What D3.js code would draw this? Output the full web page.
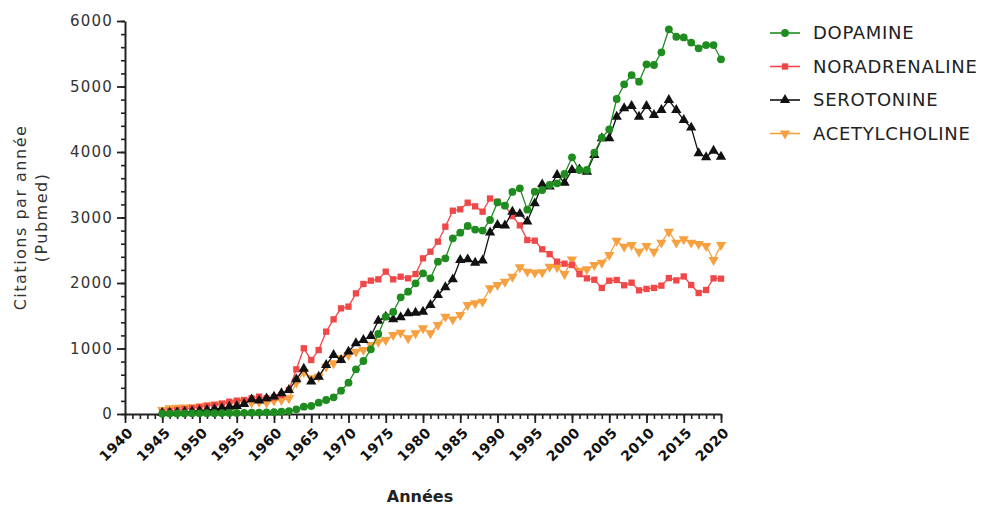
<!DOCTYPE html>
<html>
<head>
<meta charset="utf-8">
<script src="https://cdn.jsdelivr.net/npm/d3@7"></script>
<style>
  html, body { margin: 0; padding: 0; background: #fff; }
  svg { display: block; }
  text { font-family: "DejaVu Sans", "Liberation Sans", sans-serif; }
</style>
</head>
<body>
<svg id="chart" width="984" height="506"></svg>
<script>
// Citations per year (PubMed), 1945 – 2020
const firstYear = 1945;
const lastYear = 2020;

const dopamine = [
  5, 6, 8, 8, 10, 10, 12, 12, 14, 15,
  16, 18, 20, 22, 25, 28, 35, 45, 71, 112,
  122, 173, 214, 254, 356, 478, 682, 809, 987, 1221,
  1486, 1557, 1781, 1868, 1995, 2147, 2071, 2326, 2376, 2682,
  2768, 2870, 2815, 2800, 2962, 3230, 3180, 3390, 3446, 3120,
  3394, 3420, 3496, 3522, 3664, 3919, 3725, 3725, 3990, 4219,
  4346, 4809, 5033, 5175, 5074, 5339, 5328, 5522, 5873, 5760,
  5750, 5670, 5583, 5633, 5633, 5415
];
const noradrenaline = [
  30, 45, 60, 75, 90, 110, 125, 140, 160, 188,
  204, 214, 239, 265, 239, 254, 290, 366, 682, 1003,
  824, 977, 1257, 1445, 1613, 1639, 1842, 1985, 2036, 2056,
  2173, 2056, 2096, 2071, 2137, 2376, 2478, 2631, 2860, 3104,
  3125, 3226, 3170, 3089, 3290, 3242, 3180, 3020, 2880, 2656,
  2646, 2515, 2440, 2326, 2295, 2275, 2135, 2071, 2050, 1925,
  2035, 2046, 1965, 2005, 1888, 1910, 1925, 1960, 2075, 2040,
  2100, 1969, 1847, 1893, 2071, 2066
];
const serotonine = [
  15, 20, 25, 30, 40, 50, 60, 75, 90, 112,
  122, 153, 224, 204, 239, 265, 316, 366, 529, 690,
  494, 570, 748, 901, 824, 952, 1079, 1130, 1191, 1425,
  1486, 1445, 1476, 1537, 1547, 1562, 1664, 1817, 1934, 2056,
  2351, 2361, 2310, 2345, 2770, 2885, 2878, 3089, 3056, 2940,
  3216, 3506, 3471, 3649, 3532, 3725, 3735, 3700, 3954, 4209,
  4209, 4539, 4667, 4702, 4539, 4702, 4565, 4641, 4794, 4641,
  4488, 4372, 3980, 3919, 4020, 3929
];
const acetylcholine = [
  61, 90, 95, 100, 105, 110, 130, 140, 150, 165,
  173, 204, 173, 188, 173, 204, 214, 239, 480, 640,
  545, 570, 723, 774, 850, 901, 952, 977, 1053, 1104,
  1130, 1206, 1242, 1155, 1232, 1308, 1232, 1359, 1486, 1445,
  1511, 1664, 1690, 1715, 1919, 1969, 2020, 2096, 2239, 2173,
  2158, 2163, 2249, 2239, 2137, 2361, 2188, 2210, 2275, 2310,
  2427, 2646, 2555, 2580, 2478, 2565, 2478, 2616, 2783, 2616,
  2667, 2616, 2595, 2565, 2351, 2580
];

const seriesNames = ["DOPAMINE", "NORADRENALINE", "SEROTONINE", "ACETYLCHOLINE"];
const xTickLabels = ["1940", "1945", "1950", "1955", "1960", "1965", "1970", "1975", "1980",
                     "1985", "1990", "1995", "2000", "2005", "2010", "2015", "2020"];
const yTickLabels = ["0", "1000", "2000", "3000", "4000", "5000", "6000"];

const years = d3.range(firstYear, lastYear + 1);

const series = [
  { name: seriesNames[0], values: dopamine,      color: "#1e8c1e", symbol: d3.symbolCircle,   size: 48, rot: 0 },
  { name: seriesNames[1], values: noradrenaline, color: "#f04848", symbol: d3.symbolSquare,   size: 40, rot: 0 },
  { name: seriesNames[2], values: serotonine,    color: "#111111", symbol: d3.symbolTriangle, size: 46, rot: 0 },
  { name: seriesNames[3], values: acetylcholine, color: "#f7a040", symbol: d3.symbolTriangle, size: 46, rot: 180 }
];

const svg = d3.select("#chart");

const x = d3.scaleLinear().domain([+xTickLabels[0], +xTickLabels[xTickLabels.length - 1]]).range([125, 721]);
const y = d3.scaleLinear().domain([+yTickLabels[0], +yTickLabels[yTickLabels.length - 1]]).range([414, 21]);

// --- axes ---
const axisColor = "#222";

// y minor ticks
svg.append("g")
  .attr("transform", `translate(${x.range()[0]},0)`)
  .call(d3.axisLeft(y).tickValues(d3.range(0, 6001, 200)).tickSize(4).tickSizeOuter(0).tickFormat(""))
  .call(g => g.selectAll("line").attr("stroke", axisColor).attr("stroke-width", 1.6))
  .call(g => g.select(".domain").remove());

// y major ticks + labels
svg.append("g")
  .attr("transform", `translate(${x.range()[0]},0)`)
  .call(d3.axisLeft(y).tickValues(yTickLabels.map(Number)).tickSize(8).tickSizeOuter(0).tickPadding(4)
        .tickFormat((d, i) => yTickLabels[i]))
  .call(g => g.select(".domain").attr("stroke", axisColor).attr("stroke-width", 2))
  .call(g => g.selectAll("line").attr("stroke", axisColor).attr("stroke-width", 1.8))
  .call(g => g.selectAll("text")
      .attr("fill", "#333")
      .style("font-size", "15px")
      .style("letter-spacing", "1.2px"));

// x minor ticks
svg.append("g")
  .attr("transform", `translate(0,${y.range()[0]})`)
  .call(d3.axisBottom(x).tickValues(d3.range(1940, 2021, 1)).tickSize(5).tickSizeOuter(0).tickFormat(""))
  .call(g => g.selectAll("line").attr("stroke", axisColor).attr("stroke-width", 1.6))
  .call(g => g.select(".domain").remove());

// x major ticks + rotated labels
svg.append("g")
  .attr("transform", `translate(0,${y.range()[0]})`)
  .call(d3.axisBottom(x).tickValues(xTickLabels.map(Number)).tickSize(9).tickSizeOuter(0)
        .tickFormat((d, i) => xTickLabels[i]))
  .call(g => g.select(".domain").attr("stroke", axisColor).attr("stroke-width", 2))
  .call(g => g.selectAll("line").attr("stroke", axisColor).attr("stroke-width", 1.8))
  .call(g => g.selectAll("text")
      .attr("fill", "#111")
      .attr("text-anchor", "end")
      .attr("dy", "0.35em")
      .attr("transform", "translate(5,16) rotate(-45)")
      .attr("y", 0)
      .style("font-size", "14px")
      .style("font-weight", "bold")
      .style("letter-spacing", "0.4px"));

// axis titles
svg.append("text")
  .attr("x", (x.range()[0] + x.range()[1]) / 2 - 3)
  .attr("y", 497)
  .attr("text-anchor", "middle")
  .attr("dominant-baseline", "middle")
  .attr("fill", "#222")
  .style("font-size", "16px")
  .style("font-weight", "bold")
  .text("Années");

const yTitle = svg.append("text")
  .attr("transform", `translate(20,${(y.range()[0] + y.range()[1]) / 2}) rotate(-90)`)
  .attr("text-anchor", "middle")
  .attr("fill", "#333")
  .style("font-size", "16px")
  .style("letter-spacing", "1.5px");
yTitle.append("tspan").attr("x", 0).attr("dy", "0.35em").text("Citations par année");
yTitle.append("tspan").attr("x", 0).attr("dy", "1.35em").text("(Pubmed)");

// --- series: lines and markers ---
const line = d3.line()
  .x((d, i) => x(years[i]))
  .y(d => y(d));

const drawOrder = [3, 1, 2, 0];
drawOrder.forEach(k => {
  const s = series[k];
  const g = svg.append("g").attr("class", "series");
  g.append("path")
    .datum(s.values)
    .attr("fill", "none")
    .attr("stroke", s.color)
    .attr("stroke-width", 1.3)
    .attr("d", line);
  const sym = d3.symbol().type(s.symbol).size(s.size);
  g.selectAll("path.pt")
    .data(s.values)
    .join("path")
    .attr("class", "pt")
    .attr("d", sym)
    .attr("fill", s.color)
    .attr("transform", (d, i) => `translate(${x(years[i])},${y(d)}) rotate(${s.rot})`);
});

// --- legend ---
const legend = svg.append("g").attr("transform", "translate(770,33)");
series.forEach((s, i) => {
  const row = legend.append("g").attr("transform", `translate(0,${i * 33.5})`);
  row.append("line")
    .attr("x1", 0).attr("x2", 30)
    .attr("stroke", s.color).attr("stroke-width", 1.6);
  row.append("path")
    .attr("d", d3.symbol().type(s.symbol).size(s.size)())
    .attr("fill", s.color)
    .attr("transform", `translate(15,0) rotate(${s.rot})`);
  row.append("text")
    .attr("x", 43)
    .attr("dy", "0.36em")
    .attr("fill", "#222")
    .style("font-size", "18px")
    .style("letter-spacing", "0.7px")
    .text(s.name);
});
</script>
</body>
</html>
